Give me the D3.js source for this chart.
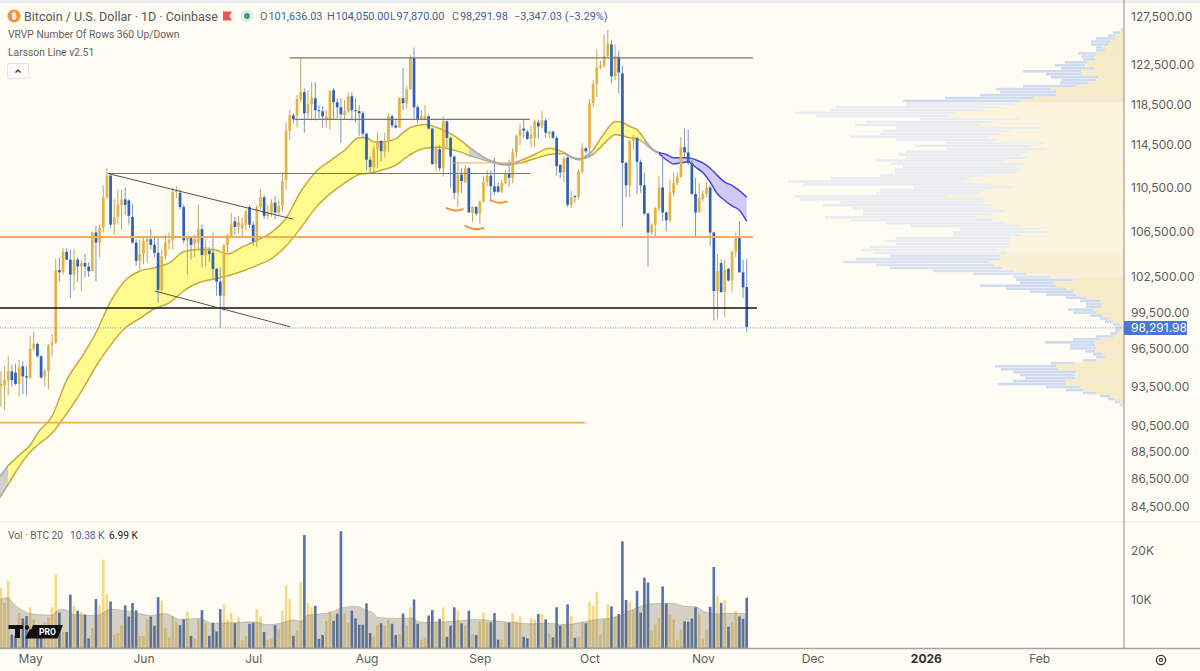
<!DOCTYPE html>
<html>
<head>
<meta charset="utf-8">
<script src="https://cdn.jsdelivr.net/npm/d3@7"></script>
<style>
  html, body { margin: 0; padding: 0; background: #fffdf3; }
  text { font-family: Roboto, "Noto Sans", sans-serif; }
</style>
</head>
<body>
<div id="chart"></div>
<script>
// daily candles, prices in thousands of USD, first candle is 23 Apr 2025
const opens = [
  93.5,93.6,94.0,94.7,94.6,93.7,95.1,94.3,94.2,96.5,
  96.9,95.9,94.3,94.7,96.8,97.0,103.1,102.9,104.7,104.0,
  102.7,104.0,103.4,103.7,103.4,103.0,106.4,105.5,106.8,109.6,
  111.6,107.1,107.8,108.9,109.4,109.3,107.8,105.5,103.9,104.5,
  105.6,105.8,105.3,104.6,101.4,104.3,105.5,105.7,110.1,110.0,
  108.7,105.7,106.0,105.4,105.5,106.7,104.4,104.8,104.6,103.2,
  102.1,100.9,105.3,106.1,107.4,106.9,106.8,107.1,108.7,107.1,
  105.6,108.7,109.6,107.9,108.2,109.1,108.2,108.8,111.2,115.9,
  117.4,117.4,119.0,119.7,117.6,118.5,119.1,117.9,117.8,117.0,
  117.0,119.9,118.7,118.2,117.4,117.8,119.3,117.9,117.8,117.6,
  115.6,113.1,112.4,114.1,114.9,113.9,114.8,117.3,116.4,116.2,
  119.1,118.6,120.0,123.2,118.2,117.0,117.0,117.3,116.1,112.7,
  114.1,112.3,116.8,115.2,113.4,110.0,111.7,111.0,112.3,108.2,
  108.7,108.1,109.2,111.0,111.6,110.6,110.6,110.1,110.9,111.8,
  111.4,113.8,115.4,116.1,115.8,115.1,115.2,116.7,116.3,116.9,
  115.6,115.8,115.2,112.6,111.9,113.3,108.9,109.7,109.6,112.0,
  114.2,114.2,118.6,120.5,122.2,122.4,123.4,124.6,121.3,123.3,
  121.6,112.8,110.7,114.9,115.2,112.9,110.7,108.1,106.4,107.1,
  108.6,110.5,108.2,107.5,110.0,110.9,111.5,114.3,113.8,112.8,
  109.9,108.2,109.4,109.9,110.5,106.4,101.3,103.7,101.2,103.2,
  102.2,104.7,105.9,102.9,101.636
];
const highs = [
  94.7,95.1,95.9,95.2,95.3,95.6,95.5,95.1,97.5,97.9,
  97.0,96.0,94.9,96.9,97.7,104.1,104.2,105.0,105.0,104.9,
  104.9,104.2,104.0,104.5,103.8,106.5,107.0,107.1,110.7,112.3,
  111.7,109.4,110.3,110.3,110.5,109.4,109.0,105.8,105.8,106.0,
  106.0,106.7,106.0,106.0,104.9,106.2,106.4,110.5,110.6,110.3,
  108.9,106.1,106.1,106.2,108.9,107.1,105.8,105.1,106.4,103.3,
  103.3,105.3,106.2,108.2,107.8,107.9,107.7,108.5,108.9,107.4,
  108.9,110.4,109.8,108.9,109.4,109.7,109.4,111.9,116.7,117.9,
  117.6,119.4,123.2,120.1,119.9,120.7,120.7,118.4,118.3,117.9,
  119.9,120.1,119.1,119.1,118.9,119.7,119.7,119.1,118.4,117.8,
  115.7,113.4,114.5,115.7,115.0,115.7,117.6,117.5,116.9,119.2,
  122.2,120.3,123.5,124.3,118.4,117.9,118.4,117.5,116.2,114.4,
  114.5,117.3,116.9,115.3,113.5,112.8,112.3,112.6,112.4,108.8,
  108.8,109.3,111.6,112.1,112.1,113.3,111.0,111.2,112.1,113.1,
  114.2,115.5,116.6,117.0,116.0,116.4,117.0,117.0,117.8,117.1,
  115.9,115.9,115.4,112.7,113.4,113.4,110.2,109.8,112.2,114.7,
  114.3,119.0,120.9,124.1,122.9,125.6,126.1,125.1,124.6,123.9,
  122.4,112.9,115.0,115.5,115.3,113.1,111.9,108.2,107.2,108.7,
  111.6,113.6,108.3,111.2,111.9,111.9,115.3,116.1,116.0,113.1,
  111.4,110.9,110.2,111.0,110.7,106.5,104.5,104.0,104.0,103.3,
  104.8,106.4,107.4,104.0,104.05
];
const lows = [
  91.9,91.7,92.8,93.5,93.6,92.7,92.9,92.8,94.1,96.3,
  95.8,94.1,93.5,93.3,95.9,96.9,102.1,102.7,104.0,100.7,
  101.3,102.1,101.3,102.5,102.5,103.0,102.1,104.2,106.4,109.4,
  106.8,106.2,107.1,106.6,108.0,107.1,105.4,103.5,103.1,103.6,
  103.7,104.9,104.2,100.3,101.2,104.0,104.9,104.9,109.5,108.5,
  105.4,102.7,104.0,104.2,104.9,103.3,103.4,103.8,102.3,100.9,
  98.2,99.6,104.6,106.0,106.2,106.3,106.0,106.6,106.8,105.2,
  105.1,108.5,107.6,107.6,107.8,107.6,108.0,108.3,110.3,115.0,
  116.6,116.2,118.7,115.7,117.1,116.9,116.9,117.1,116.2,116.2,
  116.0,117.0,117.1,114.7,117.0,117.6,116.9,116.7,115.4,115.2,
  112.1,111.9,111.9,112.3,112.9,113.3,113.8,116.2,116.1,116.2,
  117.9,118.0,119.9,117.1,116.6,116.9,116.9,116.0,112.6,112.0,
  112.0,111.5,114.3,110.5,109.4,108.7,110.0,110.9,108.2,107.3,
  107.9,107.2,109.1,110.6,109.2,109.8,110.0,110.0,110.8,110.6,
  110.9,113.3,114.5,115.2,115.0,114.3,114.3,115.1,116.1,115.2,
  115.2,115.1,111.6,111.4,111.0,108.7,108.6,109.1,109.4,111.8,
  113.7,113.3,118.2,119.2,122.0,122.2,123.3,120.6,120.9,119.6,
  106.9,109.6,109.6,114.0,109.9,110.0,108.0,103.4,106.2,106.0,
  108.3,107.4,106.5,107.3,109.7,110.7,111.4,113.4,112.6,109.8,
  106.1,108.2,109.2,109.6,105.2,98.8,98.9,101.2,99.1,102.1,
  101.2,104.2,102.9,100.7,97.87
];
const closes = [
  93.7,94.0,94.7,94.0,93.7,95.0,94.3,94.2,96.5,96.9,
  95.9,94.2,94.7,96.8,97.0,103.1,102.9,104.7,104.0,102.7,
  104.0,103.4,103.7,103.4,103.0,106.4,105.5,106.8,109.6,111.6,
  107.1,107.8,108.9,109.4,108.9,107.9,105.5,103.9,104.5,105.6,
  105.8,105.3,104.6,101.4,104.3,105.5,105.7,110.1,110.2,108.7,
  105.7,106.0,105.3,105.8,106.7,104.4,105.1,104.5,103.2,102.1,
  100.9,105.3,106.2,107.1,106.9,107.3,107.2,108.3,107.1,105.6,
  108.7,109.6,107.9,108.2,109.1,108.2,108.8,111.1,115.9,117.4,
  117.0,119.0,119.7,117.6,118.5,119.1,117.9,117.8,117.3,117.3,
  119.8,118.7,118.2,117.5,117.8,119.3,117.9,117.8,117.6,115.6,
  113.1,112.4,114.1,114.8,113.9,114.8,117.3,116.4,116.2,119.1,
  118.6,120.0,123.2,118.2,117.0,117.3,117.3,116.1,112.7,114.2,
  112.3,116.8,115.2,113.4,110.0,111.7,111.1,112.3,108.2,108.7,
  108.1,109.2,111.0,111.6,110.6,110.1,110.1,110.9,111.8,111.4,
  113.8,115.4,116.0,115.9,115.1,115.5,116.8,116.3,116.9,115.7,
  115.8,115.2,112.5,111.9,113.2,108.9,109.6,109.6,112.0,114.2,
  113.9,118.6,120.5,122.2,122.4,123.4,124.7,121.3,123.4,121.7,
  112.8,110.7,114.9,115.3,112.9,110.7,108.1,106.4,107.1,108.6,
  110.5,108.2,107.5,110.0,110.9,111.5,114.3,113.8,112.8,109.9,
  108.2,109.5,109.9,110.5,106.4,101.3,103.0,101.2,103.1,102.2,
  104.7,105.9,102.9,101.6,98.292
];
// daily volume, thousands of BTC
const volumes = [
  12.4,9.3,13.9,2.8,2.5,7.3,6.1,6.6,8.4,5.9,
  2.4,2.4,5.3,6.3,8.4,15.2,7.3,3.3,3.3,11.0,
  8.7,7.7,7.5,6.9,2.0,4.2,10.1,8.8,18.2,11.2,
  9.6,2.8,3.1,4.8,8.8,6.5,9.3,7.8,2.5,2.5,
  6.0,6.5,4.6,10.5,9.7,4.1,2.2,6.6,5.4,4.7,
  5.9,7.5,2.5,2.0,6.0,7.8,5.1,2.5,5.2,3.4,
  8.0,9.0,5.9,7.3,5.1,6.3,1.6,2.4,5.0,5.2,
  8.0,6.5,3.3,1.7,1.9,4.7,3.9,7.7,12.9,10.1,
  2.5,3.7,13.5,23.3,9.2,8.4,8.7,1.9,2.7,5.6,
  7.6,5.6,7.1,24.1,7.1,5.1,7.7,6.1,4.8,4.8,
  9.2,3.1,2.4,4.8,5.1,4.6,5.9,5.0,2.7,2.9,
  7.1,4.6,8.4,10.0,5.0,1.7,2.1,6.7,7.8,5.6,
  6.0,8.4,2.3,4.6,8.4,7.7,5.1,4.6,7.7,2.9,
  2.7,5.4,7.3,5.3,5.3,7.2,1.7,1.7,5.2,5.2,
  7.2,5.5,6.5,2.3,2.0,6.1,5.9,7.0,7.1,5.9,
  2.9,2.2,8.4,4.6,5.0,9.0,6.7,2.1,2.4,5.4,
  5.1,9.6,8.7,11.6,2.8,5.9,9.0,8.6,6.7,7.0,
  22.0,9.9,9.6,7.8,11.8,7.3,14.5,13.5,3.6,4.8,
  6.3,12.7,9.2,6.9,5.9,1.6,3.8,5.5,5.4,6.1,
  8.4,6.9,1.8,3.8,8.5,16.7,10.7,9.3,9.9,4.4,
  5.4,7.6,6.5,6.0,10.38
];
const volMaDays = [0,2,3,5,8,12,14,16,18,20,23,26,30,34,38,41,45,49,54,58,63,69,73,77,80,82,84,87,90,93,97,100,102,103,108,112,115,118,125,130,135,138,145,150,154,159,163,168,173,177,180,184,187,190,193,196,200,204];
const volMa = [10.1,10.4,9.5,8.2,7.1,6.8,6.8,8.0,7.8,6.9,6.8,6.7,8.0,7.7,7.1,6.7,7.1,5.9,6.1,5.1,5.2,5.4,4.8,5.2,5.8,5.5,6.8,7.0,7.3,8.2,8.6,7.8,7.1,6.3,6.1,6.2,5.3,5.3,5.6,5.9,5.6,5.4,5.0,5.1,4.8,5.3,5.9,6.3,8.0,9.0,9.2,9.2,8.6,8.5,7.3,7.0,7.2,6.99];

// Larsson Line ribbon
const ribbonDays = [-1,0,2,4,6,8,10,14,18,22,26,30,34,38,42,46,50,54,58,62,66,70,74,78,82,86,90,94,98,100,102,104,108,110,112,116,120,124,126,128,130,134,138,142,146,150,154,158,162,164,166,168,170,172,174,176,178,180,182,184,186,188,190,192,194,196,198,200,202,204];
const ribbonUpper = [86.5,86.8,87.5,88.0,88.5,89.0,89.9,91.2,94.0,95.8,97.8,100.4,102.2,103.0,103.3,103.7,104.7,104.9,104.9,104.5,105.1,105.7,106.4,107.7,110.1,111.9,113.0,114.0,115.2,115.2,114.8,114.8,115.1,115.7,116.2,116.5,116.1,115.4,114.9,114.3,113.8,113.0,112.7,113.0,113.6,114.2,113.8,113.2,114.0,115.1,116.1,116.8,116.7,116.3,116.0,115.1,114.2,113.8,113.6,113.3,113.3,113.3,113.1,112.8,112.3,111.6,111.0,110.7,110.2,109.6];
const ribbonLower = [84.9,85.3,86.1,87.0,87.8,88.5,89.0,89.9,91.4,93.1,95.1,96.8,98.2,99.0,99.8,100.3,101.3,102.0,102.3,102.6,103.0,103.5,104.1,105.2,106.8,108.6,109.9,110.9,111.7,111.8,111.9,112.1,112.6,113.1,113.6,114.2,114.3,114.0,113.8,113.5,113.3,112.9,112.6,112.8,113.2,113.6,113.7,113.1,113.6,114.3,115.0,115.5,115.4,115.2,115.1,114.7,114.1,113.7,113.1,112.7,112.8,112.9,112.4,111.9,111.0,109.9,109.3,108.8,108.4,107.4];
const phaseFrom = [-1,2,128,142,154,162,176,180];
const phaseTo = [2,128,142,154,162,176,180,204];
const phaseKind = ["grey","yellow","grey","yellow","grey","yellow","grey","blue"];

// drawn levels and trend lines
const levelPrice = [99.87,106.0,90.71,123.2,117.0,111.8,112.8];
const levelFrom = [-1,-1,-1,79,80.4,29.3,123.4];
const levelTo = [206.8,205.7,159.8,205.7,144.7,144.7,144.2];
const levelKind = ["black","orange","orange","grey","grey","grey","orangeThin"];
const trendFromDay = [29.3,42.1];
const trendFromPrice = [111.8,101.3];
const trendToDay = [79.9,79.1];
const trendToPrice = [107.6,98.3];
const smileDays = [[121.9,124.2,126.4],[127,129.5,132],[134,136.2,138.4]];
const smilePrices = [[108.6,108.3,108.5],[107.0,106.6,106.8],[109.3,109.0,109.2]];

// visible range volume, top row first
const profileHigh = 126.3;
const profileLow = 91.7;
const profileUp = [1,4,8,9,13,16,21,19,28,29,29,36,39,29,43,43,26,28,36,48,73,68,68,91,104,111,124,141,168,175,106,131,144,84,114,124,134,128,81,94,78,96,104,96,118,99,108,104,106,138,154,161,131,111,141,144,178,141,141,131,131,119,133,149,131,118,104,
  84,76,104,114,114,114,114,128,118,124,124,136,131,121,111,98,74,51,71,68,58,51,48,38,24,23,23,31,28,21,16,11,4,3,4,6,11,24,29,29,28,29,21,19,28,51,68,66,48,49,49,58,58,44,41,28,14,9,4,2,0];
const profileTotal = [3,11,16,28,33,33,28,28,46,43,41,59,69,63,101,78,73,63,64,101,128,124,144,179,221,218,288,294,329,308,204,258,269,228,241,244,274,228,178,209,178,218,226,218,248,233,221,229,229,244,293,336,321,211,244,248,329,324,284,301,271,261,261,299,273,238,213,
  164,171,171,228,238,228,254,263,251,234,268,281,248,234,191,151,111,108,104,144,118,94,78,58,44,38,38,56,51,34,24,19,11,8,9,14,28,51,79,54,54,39,31,28,41,73,129,123,111,104,99,111,126,78,58,41,24,16,9,4,1];

// axis labels
const priceTicks = [127.5,122.5,118.5,114.5,110.5,106.5,102.5,99.5,96.5,93.5,90.5,88.5,86.5,84.5];
const volumeTicks = [10,20];
const timeTicks = [[2025,4],[2025,5],[2025,6],[2025,7],[2025,8],[2025,9],[2025,10],[2025,11],[2026,0],[2026,1]];
const timeLabels = ["May","Jun","Jul","Aug","Sep","Oct","Nov","Dec","2026","Feb"];
const lastPrice = 98.29198;

const width = 1200, height = 671;
const axisX = 1124;
const cream = "#fffdf3";
const goldBody = "#e3b344", blueBody = "#2f60b8";
const goldWick = "#bfa667", blueWick = "#7f95bd";

const firstDay = Date.UTC(2025, 3, 23);
const x = d3.scaleUtc()
  .domain([new Date(firstDay), new Date(Date.UTC(2026, 1, 1))])
  .range([0.9, 1039.2]);
const dayX = d => x(new Date(firstDay + d * 864e5));
const y = d3.scaleLog().domain([127.5, 84.5]).range([17, 507]);
const yVol = d3.scaleLinear().domain([0, 20]).range([648, 551]);
const lastY = y(lastPrice) + 1;

const svg = d3.select("#chart").append("svg")
  .attr("width", width)
  .attr("height", height)
  .style("display", "block");

svg.append("rect").attr("width", width).attr("height", height).attr("fill", cream);
svg.append("rect").attr("width", width).attr("height", 3).attr("fill", "#eeeef0");
svg.append("rect").attr("y", 521).attr("width", width).attr("height", 2).attr("fill", "#f2f1ec");

//////////////////////// volume profile ////////////////////////
const rows = d3.range(profileTotal.length);
const yRow = d3.scaleBand().domain(rows).range([y(profileHigh), y(profileLow)]);
const profileW = d3.scaleLinear().domain([0, 336]).range([0, 336]);
// rows look paler where the profile is dense
const rowTone = i => {
  const p = y.invert(yRow(i));
  if (p > 118.9 || p < 102.4) return 0;
  return p < 104.6 ? 1 : 2;
};
const downTones = ["#cfdbf0", "#dbe3f0", "#e9edf1"];
const upTones = ["#faecc2", "#fbf0cf", "#fdf3d9"];
svg.append("g").selectAll("rect")
  .data(rows)
  .join("rect")
    .attr("x", i => axisX - profileW(profileTotal[i]))
    .attr("y", i => yRow(i))
    .attr("width", i => profileW(profileTotal[i]))
    .attr("height", 2.6)
    .attr("fill", i => downTones[rowTone(i)]);
svg.append("g").selectAll("rect")
  .data(rows)
  .join("rect")
    .attr("x", i => axisX - profileW(profileUp[i]))
    .attr("y", i => yRow(i))
    .attr("width", i => profileW(profileUp[i]))
    .attr("height", 2.6)
    .attr("fill", i => upTones[rowTone(i)]);

//////////////////////// ribbon ////////////////////////
const ribbonStyle = {
  yellow: { fill: "#fffb8e", stroke: "#c9a93f" },
  grey: { fill: "#cfcfcb", stroke: "#a9a9a5" },
  blue: { fill: "#cfcbf3", stroke: "#4b41e3" }
};
const ribbonArea = d3.area().x(i => dayX(ribbonDays[i]))
  .y0(i => y(ribbonLower[i])).y1(i => y(ribbonUpper[i])).curve(d3.curveMonotoneX);
const upperLine = d3.line().x(i => dayX(ribbonDays[i])).y(i => y(ribbonUpper[i])).curve(d3.curveMonotoneX);
const lowerLine = d3.line().x(i => dayX(ribbonDays[i])).y(i => y(ribbonLower[i])).curve(d3.curveMonotoneX);
const ribbon = svg.append("g");
phaseKind.forEach((kind, p) => {
  const idx = d3.range(ribbonDays.length).filter(i => ribbonDays[i] >= phaseFrom[p] && ribbonDays[i] <= phaseTo[p]);
  const style = ribbonStyle[kind];
  ribbon.append("path").attr("d", ribbonArea(idx)).attr("fill", style.fill);
  [upperLine, lowerLine].forEach(gen => {
    ribbon.append("path").attr("d", gen(idx)).attr("fill", "none")
      .attr("stroke", style.stroke).attr("stroke-width", 1.5);
  });
});

//////////////////////// candles ////////////////////////
const days = d3.range(closes.length);
const isUp = i => closes[i] >= opens[i];
const candles = svg.append("g");
candles.selectAll("line")
  .data(days)
  .join("line")
    .attr("x1", dayX).attr("x2", dayX)
    .attr("y1", i => y(highs[i]))
    .attr("y2", i => y(lows[i]))
    .attr("stroke", i => isUp(i) ? goldWick : blueWick)
    .attr("stroke-width", 1);
candles.selectAll("rect")
  .data(days)
  .join("rect")
    .attr("x", i => dayX(i) - 1.35)
    .attr("width", 2.7)
    .attr("y", i => y(Math.max(opens[i], closes[i])))
    .attr("height", i => Math.max(1, y(Math.min(opens[i], closes[i])) - y(Math.max(opens[i], closes[i]))))
    .attr("fill", i => isUp(i) ? goldBody : blueBody);

//////////////////////// drawings ////////////////////////
const levelStyle = {
  black: { color: "#111111", w: 1.5 },
  orange: { color: "#f7ab58", w: 1.8 },
  orangeThin: { color: "#f7ab58", w: 1 },
  grey: { color: "#78786f", w: 1.2 }
};
const drawings = svg.append("g");
drawings.selectAll(".level")
  .data(levelPrice)
  .join("line")
    .attr("class", "level")
    .attr("x1", (d, i) => dayX(levelFrom[i]))
    .attr("x2", (d, i) => dayX(levelTo[i]))
    .attr("y1", d => y(d)).attr("y2", d => y(d))
    .attr("stroke", (d, i) => levelStyle[levelKind[i]].color)
    .attr("stroke-width", (d, i) => levelStyle[levelKind[i]].w);
drawings.selectAll(".trend")
  .data(trendFromDay)
  .join("line")
    .attr("class", "trend")
    .attr("x1", d => dayX(d))
    .attr("y1", (d, i) => y(trendFromPrice[i]))
    .attr("x2", (d, i) => dayX(trendToDay[i]))
    .attr("y2", (d, i) => y(trendToPrice[i]))
    .attr("stroke", "#3f3f3a")
    .attr("stroke-width", 0.9);
const smileLine = d3.line().x(d => dayX(d[0])).y(d => y(d[1])).curve(d3.curveBasis);
drawings.selectAll(".smile")
  .data(smileDays.map((ds, i) => ds.map((d, k) => [d, smilePrices[i][k]])))
  .join("path")
    .attr("class", "smile")
    .attr("d", smileLine)
    .attr("fill", "none")
    .attr("stroke", "#f28c28")
    .attr("stroke-width", 1.8)
    .attr("stroke-linecap", "round");

// last price line
svg.append("line")
  .attr("x1", 0).attr("x2", axisX)
  .attr("y1", lastY).attr("y2", lastY)
  .attr("stroke", "#6f93d8")
  .attr("stroke-width", 1)
  .attr("stroke-dasharray", "1 1.5");

//////////////////////// volume pane ////////////////////////
const vols = svg.append("g");
vols.selectAll("rect")
  .data(days)
  .join("rect")
    .attr("x", i => dayX(i) - 1.3)
    .attr("width", 2.6)
    .attr("y", i => yVol(volumes[i]))
    .attr("height", i => yVol(0) - yVol(volumes[i]))
    .attr("fill", i => isUp(i) ? "#f5d989" : "#5574ac");

const maArea = d3.area()
  .x((d, i) => dayX(volMaDays[i]))
  .y0(yVol(0))
  .y1(d => yVol(d))
  .curve(d3.curveMonotoneX);
svg.append("path")
  .datum(volMa)
  .attr("d", maArea)
  .attr("fill", "#6f6b5e")
  .attr("fill-opacity", 0.3)
  .attr("stroke", "#6f6b5e")
  .attr("stroke-opacity", 0.3);

svg.append("line")
  .attr("x1", 0).attr("x2", width)
  .attr("y1", yVol(0) + 0.5).attr("y2", yVol(0) + 0.5)
  .attr("stroke", "#a3a3a0").attr("stroke-width", 1.4);
svg.append("line")
  .attr("x1", axisX).attr("x2", axisX)
  .attr("y1", 0).attr("y2", yVol(0))
  .attr("stroke", "#8b8b8b").attr("stroke-width", 1);

//////////////////////// axes ////////////////////////
function cleanAxis(g) {
  g.select(".domain").remove();
  g.selectAll(".tick line").remove();
  g.selectAll("text").attr("fill", "#5d5d60").style("font-size", "12px")
    .style("font-family", "Inter, sans-serif");
}
svg.append("g")
  .attr("transform", `translate(${axisX},0)`)
  .call(d3.axisRight(y).tickValues(priceTicks).tickFormat(d => d3.format(",.2f")(d * 1000)).tickSize(0).tickPadding(7))
  .call(cleanAxis);
svg.append("g")
  .attr("transform", `translate(${axisX},0)`)
  .call(d3.axisRight(yVol).tickValues(volumeTicks).tickFormat(d => d + "K").tickSize(0).tickPadding(7))
  .call(cleanAxis);
svg.append("g")
  .attr("transform", "translate(0,652)")
  .call(d3.axisBottom(x)
    .tickValues(timeTicks.map(t => new Date(Date.UTC(t[0], t[1], 1))))
    .tickFormat((d, i) => timeLabels[i])
    .tickSize(0).tickPadding(2))
  .call(cleanAxis)
  .call(g => g.selectAll("text")
    .filter(d => d.getUTCFullYear() === 2026 && d.getUTCMonth() === 0)
    .attr("fill", "#2f2f33").style("font-weight", 700));

// last price tag
svg.append("rect")
  .attr("x", axisX).attr("y", lastY - 7)
  .attr("width", 63).attr("height", 14).attr("rx", 1)
  .attr("fill", "#4a76d8");
svg.append("text")
  .attr("x", axisX + 7).attr("y", lastY + 4.2)
  .attr("fill", "#ffffff").style("font-size", "12px").style("font-family", "Inter, sans-serif")
  .text(d3.format(",.2f")(lastPrice * 1000));

//////////////////////// header ////////////////////////
const head = svg.append("g");
head.append("circle").attr("cx", 14).attr("cy", 16).attr("r", 6.5).attr("fill", "#ee9336");
head.append("text").attr("x", 14).attr("y", 19.3).attr("text-anchor", "middle")
  .attr("fill", "#fff").style("font-size", "9px").style("font-weight", 700).text("₿");
head.append("text").attr("x", 24).attr("y", 20.5).attr("fill", "#55555a")
  .style("font-size", "12.5px").text("Bitcoin / U.S. Dollar · 1D · Coinbase");
head.append("path").attr("d", "M223 11.5h9l-2.5 4.5 2.5 4.5h-9z").attr("fill", "#f0595a");
head.append("circle").attr("cx", 247).attr("cy", 16).attr("r", 6.5).attr("fill", "#e1ede6");
head.append("circle").attr("cx", 247).attr("cy", 16).attr("r", 3).attr("fill", "#3f9c83");

const ohlcParts = [["O", 260, "#66666a"], ["101,636.03", 268.5, "#3f5da6"], ["H", 327, "#66666a"], ["104,050.00", 335.5, "#3f5da6"],
  ["L", 390, "#66666a"], ["97,870.00", 396.5, "#3f5da6"], ["C", 452, "#66666a"], ["98,291.98", 460, "#3f5da6"],
  ["−3,347.03 (−3.29%)", 514, "#3f5da6"]];
head.selectAll(".ohlc")
  .data(ohlcParts)
  .join("text")
    .attr("class", "ohlc")
    .attr("x", d => d[1])
    .attr("y", 20.3)
    .attr("fill", d => d[2])
    .style("font-size", "10.9px")
    .text(d => d[0]);
head.append("text").attr("x", 8).attr("y", 38).attr("fill", "#5f5f63")
  .style("font-size", "10.3px").text("VRVP Number Of Rows 360 Up/Down");
head.append("text").attr("x", 8).attr("y", 56).attr("fill", "#5f5f63")
  .style("font-size", "10.3px").text("Larsson Line v2.51");
head.append("rect").attr("x", 7.5).attr("y", 63.5).attr("width", 21).attr("height", 15).attr("rx", 2)
  .attr("fill", "#fffefa").attr("stroke", "#e2e2de");
head.append("path").attr("d", "M15.5 72.5l2.5-2.5 2.5 2.5").attr("fill", "none")
  .attr("stroke", "#222").attr("stroke-width", 1.2);

const volHead = head.append("text").attr("x", 8).attr("y", 539).style("font-size", "10.2px");
volHead.append("tspan").attr("fill", "#5f5f63").text("Vol · BTC 20");
volHead.append("tspan").attr("x", 70).attr("fill", "#3f5da6").text("10.38 K");
volHead.append("tspan").attr("x", 109).attr("fill", "#222").text("6.99 K");

// logo
const logo = svg.append("g");
logo.append("path").attr("d", "M8.5 625h14.5v4h-3v9h-5v-9h-6.5z").attr("fill", "#111");
logo.append("circle").attr("cx", 27).attr("cy", 627.5).attr("r", 2.2).attr("fill", "#111");
logo.append("path").attr("d", "M33 625h30l-5.5 13.5h-30z").attr("fill", "#111");
logo.append("path").attr("d", "M25 638.5l4.5-9h3.5l-4.5 9z").attr("fill", "#111");
logo.append("text").attr("x", 39).attr("y", 635.2).attr("fill", "#fff")
  .style("font-size", "8.5px").style("font-weight", 700).text("PRO");

// settings gear
const gear = svg.append("g").attr("fill", "none").attr("stroke", "#333");
gear.append("circle").attr("cx", 1161).attr("cy", 660).attr("r", 4.6).attr("stroke-width", 1.3);
gear.append("circle").attr("cx", 1161).attr("cy", 660).attr("r", 1.6).attr("stroke-width", 1.1);
</script>
</body>
</html>
